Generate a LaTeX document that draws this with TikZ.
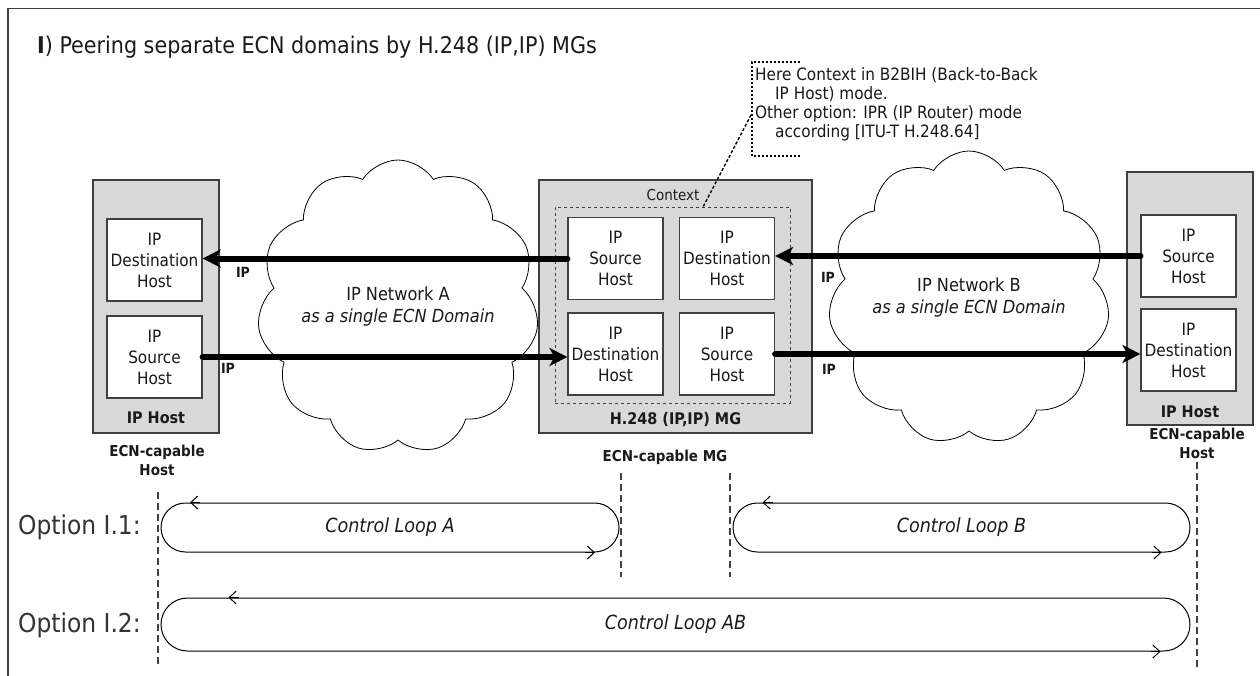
\documentclass[tikz,border=0pt]{standalone}
\usepackage{fontspec}
\setmainfont{DejaVu Sans Condensed}
\usetikzlibrary{shapes.symbols,shapes.misc,arrows.meta}
\definecolor{dg}{HTML}{404040}
\definecolor{lg}{HTML}{D9D9D9}
\definecolor{txt}{HTML}{1A1A1A}
\definecolor{optc}{HTML}{333333}
\begin{document}
\begin{tikzpicture}[x=1pt,y=-1pt,
  every node/.style={text=txt},
  hostbox/.style={draw=dg, fill=lg, line width=1.2pt, inner sep=0pt, rectangle},
  ipbox/.style={draw=dg, fill=white, line width=1.2pt, minimum width=95pt, minimum height=82pt,
    align=center, inner sep=0pt, font=\fontsize{17}{21}\selectfont},
  ctxbox/.style={draw=dg, dashed, line width=0.8pt, inner sep=0pt, minimum width=235pt, minimum height=196pt},
  boldlbl/.style={font=\bfseries\fontsize{16}{19}\selectfont, inner sep=0pt},
  ecnlbl/.style={font=\bfseries\fontsize{15}{19}\selectfont, align=center, inner sep=0pt},
  iplbl/.style={font=\bfseries\fontsize{14}{16}\selectfont, inner sep=0pt},
  bigarrow/.style={line width=6pt, line cap=round, -{Stealth[length=18pt,width=18pt,inset=5pt]}},
  cloudst/.style={cloud, draw=black, fill=white, line width=0.8pt, cloud puffs=11, cloud puff arc=115,
    cloud ignores aspect, align=center, font=\fontsize{18}{22}\selectfont},
  loopst/.style={rounded rectangle, draw=black, line width=1pt, inner sep=0pt,
    font=\itshape\fontsize{19.5}{22}\selectfont},
  looptip/.style={line width=1pt, -{Straight Barb[length=7pt,width=13pt]}},
  vdash/.style={draw=dg, line width=1.2pt, dash pattern=on 7pt off 4pt},
  optlbl/.style={anchor=west, font=\fontsize{26}{30}\selectfont, text=optc, inner sep=0pt}
]
\useasboundingbox (0,0) rectangle (1260,675);
% frame
\draw[dg, line width=1.5pt] (8,680) -- (8,8.5) -- (1260,8.5);
% title
\node[anchor=west, inner sep=0pt, font=\fontsize{23}{27}\selectfont] (title) at (37,47)
  {\textbf{I}) Peering separate ECN domains by H.248 (IP,IP) MGs};

% clouds
\node[cloudst, minimum width=222pt, minimum height=294pt] (cloudA) at (398,307)
  {IP Network A\\\textit{as a single ECN Domain}};
\node[cloudst, minimum width=222pt, minimum height=294pt] (cloudB) at (969,298)
  {IP Network B\\\textit{as a single ECN Domain}};

% left host
\node[hostbox, minimum width=126pt, minimum height=253pt] (hL) at (156,306.5) {};
\node[ipbox] (hLd) at (154.5,260) {IP\\Destination\\Host};
\node[ipbox] (hLs) at (154.5,357) {IP\\Source\\Host};
\node[boldlbl] (hLlbl) at (156,418) {IP Host};

% MG
\node[hostbox, minimum width=273pt, minimum height=253pt] (mg) at (675.5,306.5) {};
\node[ctxbox] (ctx) at (672.5,305) {};
\node[inner sep=0pt, font=\fontsize{15}{18}\selectfont] (ctxlbl) at (673,195) {Context};
\node[ipbox] (mgS1) at (615.5,258.5) {IP\\Source\\Host};
\node[ipbox] (mgD1) at (727,258.5) {IP\\Destination\\Host};
\node[ipbox] (mgD2) at (615.5,354) {IP\\Destination\\Host};
\node[ipbox] (mgS2) at (727,354) {IP\\Source\\Host};
\node[boldlbl] (mglbl) at (675.5,420) {H.248 (IP,IP) MG};

% right host
\node[hostbox, minimum width=126pt, minimum height=253pt] (hR) at (1190,298.5) {};
\node[ipbox] (hRs) at (1188.5,256) {IP\\Source\\Host};
\node[ipbox] (hRd) at (1188.5,350) {IP\\Destination\\Host};
\node[boldlbl] (hRlbl) at (1190,412) {IP Host};

% arrows
\draw[bigarrow] (mgS1.west) -- (mgS1.west -| hLd.east);
\draw[bigarrow] (hLs.east) -- (hLs.east -| mgD2.west);
\draw[bigarrow] (hRs.west) -- (hRs.west -| mgD1.east);
\draw[bigarrow] (mgS2.east) -- (mgS2.east -| hRd.west);
\node[iplbl] (ip1) at (243,272) {IP};
\node[iplbl] (ip2) at (228,368) {IP};
\node[iplbl] (ip3) at (828,277) {IP};
\node[iplbl] (ip4) at (829,369) {IP};

% callout
\draw[black, line width=1.8pt, dash pattern=on 2pt off 2pt] (800,62) -- (752,62) -- (752,156) -- (800,156);
\node[anchor=north west, align=left, inner sep=0pt, font=\fontsize{17}{19}\selectfont] (callout) at (755,67)
  {Here Context in B2BIH (Back-to-Back\\\hspace*{20pt}IP Host) mode.\\Other option: IPR (IP Router) mode\\\hspace*{20pt}according [ITU-T H.248.64]};
\coordinate (cp) at (751,115);
\coordinate (ctxtop) at (703,207);
\draw[black, line width=1.4pt, dash pattern=on 3pt off 2pt] (cp) -- (ctxtop);

% ECN labels
\node[ecnlbl] (ecnL) at (157,460) {ECN-capable\\Host};
\node[ecnlbl] (ecnM) at (665,457) {ECN-capable MG};
\node[ecnlbl] (ecnR) at (1197,443) {ECN-capable\\Host};

% vertical dashed lines
\draw[vdash] (158,492) -- (158,665);
\draw[vdash] (621,473) -- (621,577);
\draw[vdash] (730,473) -- (730,577);
\draw[vdash] (1197,462) -- (1197,668);

% options
\node[optlbl] (opt1) at (18,527) {Option I.1:};
\node[optlbl] (opt2) at (18,625) {Option I.2:};

% loops
\node[loopst, minimum width=458pt, minimum height=49pt] (loopA) at (390,527.5) {Control Loop A};
\node[loopst, minimum width=457pt, minimum height=49pt] (loopB) at (961.5,527.5) {Control Loop B};
\node[loopst, minimum width=1029pt, minimum height=53pt] (loopAB) at (675.5,624.5) {Control Loop AB};
\draw[looptip] ([xshift=-190pt]loopA.north) -- ([xshift=-200pt]loopA.north);
\draw[looptip] ([xshift=195pt]loopA.south) -- ([xshift=205pt]loopA.south);
\draw[looptip] ([xshift=-189pt]loopB.north) -- ([xshift=-199pt]loopB.north);
\draw[looptip] ([xshift=190pt]loopB.south) -- ([xshift=200pt]loopB.south);
\draw[looptip] ([xshift=-437pt]loopAB.north) -- ([xshift=-447pt]loopAB.north);
\draw[looptip] ([xshift=475pt]loopAB.south) -- ([xshift=485pt]loopAB.south);
\end{tikzpicture}
\end{document}
